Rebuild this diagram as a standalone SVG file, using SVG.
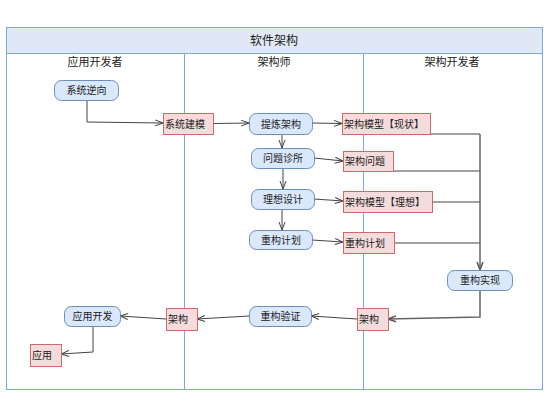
<svg xmlns="http://www.w3.org/2000/svg" width="554" height="403" viewBox="0 0 554 403">
<style>
.lane{fill:none;stroke:#7ea6e0;stroke-width:1}
.hdr{fill:#dfe8f4;stroke:#7ea6e0;stroke-width:1}
.act{fill:#dae8fc;stroke:#6c8ebf;stroke-width:1}
.obj{fill:#f4dcdc;stroke:#d06a6a;stroke-width:1}
text{font-family:"Noto Sans CJK SC","Liberation Sans",sans-serif;font-size:10px;fill:#222}
.t{font-size:12px}
.lt{font-size:11px}
.c{fill:none;stroke:#444;stroke-width:1;marker-end:url(#a)}
.cn{fill:none;stroke:#444;stroke-width:1}
.cg{fill:none;stroke:#666;stroke-width:1.5}
</style>
<defs>
<marker id="a" markerWidth="10" markerHeight="10" refX="9" refY="5" orient="auto" markerUnits="userSpaceOnUse">
<path d="M1,2 L9,5 L1,8" fill="none" stroke="#444" stroke-width="1"/>
</marker>
<marker id="b" markerWidth="10" markerHeight="10" refX="9" refY="5" orient="auto" markerUnits="userSpaceOnUse">
<path d="M1,2 L9,5 L1,8" fill="none" stroke="#555" stroke-width="1.5"/>
</marker>
</defs>
<rect width="554" height="403" fill="#fff"/>
<g id="pool">
<rect class="hdr" x="6.5" y="27.5" width="536" height="26"/>
<rect class="lane" x="6.5" y="53.5" width="536" height="336"/>
<line class="lane" x1="184.5" y1="53.5" x2="184.5" y2="389.5"/>
<line class="lane" x1="363.5" y1="53.5" x2="363.5" y2="389.5"/>
<text class="t" x="274" y="45" text-anchor="middle">软件架构</text>
<text class="lt" x="95" y="66" text-anchor="middle">应用开发者</text>
<text class="lt" x="274" y="66" text-anchor="middle">架构师</text>
<text class="lt" x="452" y="66" text-anchor="middle">架构开发者</text>
</g>
<g id="connectors">
<polyline class="c" points="87,100 87,122 163,123"/>
<line class="c" x1="213" y1="123.5" x2="249" y2="123"/>
<line class="c" x1="312" y1="123" x2="342" y2="123.5"/>
<line class="c" x1="282" y1="134" x2="282" y2="148"/>
<line class="c" x1="283" y1="168" x2="283" y2="189"/>
<line class="c" x1="282" y1="209" x2="282" y2="230"/>
<line class="c" x1="314" y1="158" x2="343" y2="161"/>
<line class="c" x1="314" y1="199" x2="343" y2="201"/>
<line class="c" x1="312" y1="240" x2="343" y2="242"/>
<polyline class="cn" points="399,134 480,134"/>
<polyline class="cn" points="380,171 480,171"/>
<polyline class="cn" points="432,202 480,202"/>
<polyline class="cn" points="394,243 480,243"/>
<line class="cg" x1="480" y1="134" x2="480" y2="270" marker-end="url(#b)"/>
<polyline class="cg" points="480,290 480,317 388,319" marker-end="url(#b)"/>
<line class="c" x1="357" y1="319" x2="311" y2="316"/>
<line class="c" x1="249" y1="316" x2="197" y2="319"/>
<line class="c" x1="166" y1="319" x2="120" y2="316"/>
<polyline class="c" points="93,327 93,352 61,354"/>
</g>
<g id="n-xtnx"><rect class="act" x="54.5" y="80.5" width="64" height="20" rx="7"/><text x="86.5" y="94" text-anchor="middle">系统逆向</text></g>
<g id="n-xtjm"><rect class="obj" x="163.5" y="113.5" width="50" height="21"/><text x="165" y="127.5">系统建模</text></g>
<g id="n-tljg"><rect class="act" x="249.5" y="113.5" width="63" height="21" rx="7"/><text x="281" y="127.5" text-anchor="middle">提炼架构</text></g>
<g id="n-jgmx-xz"><rect class="obj" x="342.5" y="113.5" width="88" height="21"/><text x="344" y="127.5">架构模型【现状】</text></g>
<g id="n-wtzs"><rect class="act" x="251.5" y="148.5" width="63" height="20" rx="7"/><text x="283" y="162" text-anchor="middle">问题诊所</text></g>
<g id="n-jgwt"><rect class="obj" x="343.5" y="151.5" width="50" height="20"/><text x="345" y="165">架构问题</text></g>
<g id="n-lxsj"><rect class="act" x="251.5" y="189.5" width="63" height="20" rx="7"/><text x="283" y="203" text-anchor="middle">理想设计</text></g>
<g id="n-jgmx-lx"><rect class="obj" x="343.5" y="191.5" width="89" height="21"/><text x="345" y="205.5">架构模型【理想】</text></g>
<g id="n-cgjh"><rect class="act" x="249.5" y="230.5" width="63" height="19" rx="7"/><text x="281" y="243.5" text-anchor="middle">重构计划</text></g>
<g id="n-cgjh2"><rect class="obj" x="343.5" y="232.5" width="51" height="21"/><text x="345" y="246.5">重构计划</text></g>
<g id="n-cgsx"><rect class="act" x="447.5" y="270.5" width="65" height="20" rx="7"/><text x="480" y="284" text-anchor="middle">重构实现</text></g>
<g id="n-jg-r"><rect class="obj" x="357.5" y="308.5" width="31" height="22"/><text x="359" y="323">架构</text></g>
<g id="n-cgyz"><rect class="act" x="249.5" y="306.5" width="62" height="20" rx="7"/><text x="280.5" y="320" text-anchor="middle">重构验证</text></g>
<g id="n-jg-m"><rect class="obj" x="166.5" y="308.5" width="31" height="22"/><text x="168" y="323">架构</text></g>
<g id="n-yykf"><rect class="act" x="64.5" y="306.5" width="56" height="20" rx="7"/><text x="92.5" y="320" text-anchor="middle">应用开发</text></g>
<g id="n-yy"><rect class="obj" x="30.5" y="344.5" width="31" height="22"/><text x="32" y="359">应用</text></g>
</svg>
